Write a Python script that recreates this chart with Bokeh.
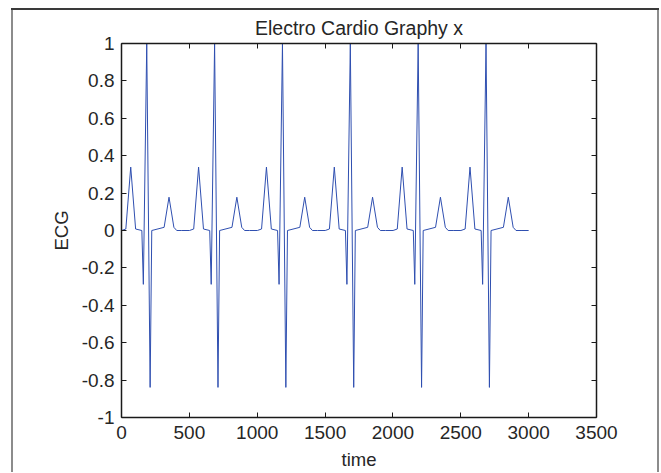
from bokeh.plotting import figure
from bokeh.models import Range1d, LinearAxis, FixedTicker, CustomJSTickFormatter
from bokeh.embed import file_html
from bokeh.resources import INLINE

# ECG trace vertices (piecewise-linear waveform, 6 beats)
time = [
    1, 32, 68, 104, 150, 161, 186, 211, 223, 314, 350, 386, 407, 444,
    501, 532, 568, 604, 650, 661, 686, 711, 723, 814, 850, 886, 907, 944,
    1001, 1032, 1068, 1104, 1150, 1161, 1186, 1211, 1223, 1314, 1350, 1386, 1407, 1444,
    1501, 1532, 1568, 1604, 1650, 1661, 1686, 1711, 1723, 1814, 1850, 1886, 1907, 1944,
    2001, 2032, 2068, 2104, 2150, 2161, 2186, 2211, 2223, 2314, 2350, 2386, 2407, 2444,
    2501, 2532, 2568, 2604, 2650, 2661, 2686, 2711, 2723, 2814, 2850, 2886, 2907, 2944,
    3000,
]
ecg = [
    0, 0.008, 0.339, 0.008, 0, -0.288, 1, -0.839, 0, 0.017, 0.178, 0.017, 0, 0,
    0, 0.008, 0.339, 0.008, 0, -0.288, 1, -0.839, 0, 0.017, 0.178, 0.017, 0, 0,
    0, 0.008, 0.339, 0.008, 0, -0.288, 1, -0.839, 0, 0.017, 0.178, 0.017, 0, 0,
    0, 0.008, 0.339, 0.008, 0, -0.288, 1, -0.839, 0, 0.017, 0.178, 0.017, 0, 0,
    0, 0.008, 0.339, 0.008, 0, -0.288, 1, -0.839, 0, 0.017, 0.178, 0.017, 0, 0,
    0, 0.008, 0.339, 0.008, 0, -0.288, 1, -0.839, 0, 0.017, 0.178, 0.017, 0, 0,
    0,
]

x_ticks = [0, 500, 1000, 1500, 2000, 2500, 3000, 3500]
x_tick_labels = ["0", "500", "1000", "1500", "2000", "2500", "3000", "3500"]
y_ticks = [-1, -0.8, -0.6, -0.4, -0.2, 0, 0.2, 0.4, 0.6, 0.8, 1]
y_tick_labels = ["-1", "-0.8", "-0.6", "-0.4", "-0.2", "0", "0.2", "0.4", "0.6", "0.8", "1"]

title_text = "Electro Cardio Graphy x"
x_label = "time"
y_label = "ECG"

FONT = "Liberation Sans"
TXT = "#262626"
AX = "#1a1a1a"

p = figure(width=660, height=472, output_backend="svg", toolbar_location=None,
           x_range=Range1d(0, 3500), y_range=Range1d(-1, 1),
           min_border_left=121, min_border_right=64, min_border_top=43,
           min_border_bottom=54, title=title_text)
p.background_fill_color = "white"
p.border_fill_color = None
p.outline_line_color = None
p.grid.visible = False

# outer figure border of the source image, drawn as CSS background lines
p.styles = {
    "background-color": "white",
    "background-image": ("linear-gradient(#3a3a3a, #3a3a3a), "
                         "linear-gradient(#8c8c8c, #8c8c8c), "
                         "linear-gradient(#8c8c8c, #8c8c8c)"),
    "background-size": "648px 2px, 2px 470px, 2px 470px",
    "background-position": "11px 8px, 11px 8px, 657px 8px",
    "background-repeat": "no-repeat",
}

p.title.align = "center"
p.title.text_font = FONT
p.title.text_font_size = "19.5px"
p.title.text_font_style = "normal"
p.title.text_color = TXT
p.title.standoff = 9


def style_axis(ax, ticks, labels=None):
    ax.ticker = FixedTicker(ticks=ticks)
    ax.axis_line_color = AX
    ax.axis_line_width = 1.5
    ax.major_tick_line_color = AX
    ax.major_tick_line_width = 1
    ax.major_tick_in = 5
    ax.major_tick_out = 0
    ax.minor_tick_line_color = None
    ax.major_label_text_font = FONT
    ax.major_label_text_font_size = "19px"
    ax.major_label_text_color = TXT
    ax.axis_label_text_font = FONT
    ax.axis_label_text_font_size = "18.5px"
    ax.axis_label_text_font_style = "normal"
    ax.axis_label_text_color = TXT
    if labels is not None:
        ax.major_label_overrides = dict(zip(ticks, labels))
    else:
        ax.formatter = CustomJSTickFormatter(code="return ''")
        ax.major_label_text_font_size = "1px"
        ax.major_label_standoff = 0


xa = p.xaxis[0]
style_axis(xa, x_ticks, x_tick_labels)
xa.axis_label = x_label
xa.major_label_standoff = 8
xa.axis_label_standoff = 7

ya = p.yaxis[0]
style_axis(ya, y_ticks, y_tick_labels)
ya.axis_label = y_label
ya.major_label_standoff = 7
ya.axis_label_standoff = 7

top_ax = LinearAxis()
style_axis(top_ax, x_ticks)
p.add_layout(top_ax, "above")

right_ax = LinearAxis()
style_axis(right_ax, y_ticks)
p.add_layout(right_ax, "right")

p.line(time, ecg, line_color="#2f4fb0", line_width=1)

open("out.html", "w").write(file_html(p, INLINE))
